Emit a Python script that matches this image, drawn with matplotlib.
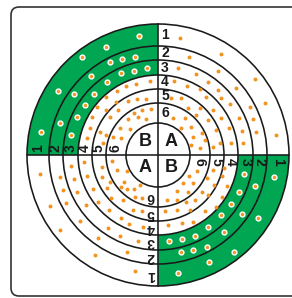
import matplotlib
matplotlib.use("Agg")
import matplotlib.pyplot as plt
from matplotlib.patches import Wedge, Circle, FancyBboxPatch

plt.rcParams['font.family'] = ['Liberation Sans', 'DejaVu Sans']

# ring boundaries (outer -> inner) and ring numbers
ring_radii = [131, 109, 95, 80, 66, 52, 32]
ring_labels = ['1', '2', '3', '4', '5', '6']
label_r = [120, 102, 87.5, 73, 59, 42]

# centre letters
center_letters = ['B', 'A', 'A', 'B']
center_x = [-13, 13, -13, 13]
center_y = [13, 13, -13, -13]

# dots in the green rings (top-left then bottom-right)
green_x = [-19, -52, -76, -100, -117,
           -48, -36, -23, -67, -84, -98,
           -37, -24, -11, -51, -64, -73, -81, -87,
           116, 100, 76, 51, 20,
           97, 84, 66, 49, 35, 23,
           86, 81, 73, 63, 50, 37, 24, 11]
green_y = [119, 108, 98, 64, 23,
           93, 96, 98, 79, 61, 32,
           82, 84, 87, 73, 61, 50, 38, 20,
           -22, -63, -97, -107, -118,
           -31, -59, -77, -92, -95, -97,
           -19, -37, -49, -60, -72, -81, -84, -86]

# dots in the white rings
tr_x = [22, 63, 31, 20, 38, 60, 97, 50, 16, 29, 42, 60, 78, 13, 23, 48, 63,
        92, 107, 72, 30, 42, 55, 15, 27, 38, 50, 63, 81, 98, 118, 23, 33,
        44, 58, 71, 85, 73, 62, 35, 47, 55, 33, 42, 95, 84]
tr_y = [117, 101, 98, 87, 81, 84, 76, 73, 74, 69, 66, 65, 67, 57, 57, 58, 57,
        48, 52, 51, 47, 47, 45, 37, 37, 40, 35, 37, 37, 23, 20, 27, 28,
        22, 25, 27, 12, 12, 12, 18, 15, 8, 10, 7, 36, 24]
tl_x = [-8, -22, -32, -41, -52, -61, -66, -71, -68, -12, -21, -30, -42, -52,
        -58, -48, -40, -7, -16, -24, -30, -20, -12, -38, -28, -45, -55, -52, -37]
tl_y = [74, 71, 69, 64, 58, 48, 38, 17, 27, 56, 56, 54, 53, 45,
        23, 38, 45, 46, 45, 42, 36, 38, 36, 27, 26, 18, 12, 20, 17]
bl_x = [-118, -108, -98, -63, -23,
        -98, -95, -92, -78, -60, -31,
        -87, -84, -81, -72, -50, -38, -20,
        -74, -71, -65, -60, -49, -37, -29, -15,
        -56, -56, -48, -51, -47, -35, -25, -16,
        -46, -41, -31, -34, -37, -31, -24, -18, -23, -16]
bl_y = [-19, -51, -75, -100, -116,
        -22, -35, -48, -66, -83, -97,
        -11, -24, -37, -50, -73, -81, -86,
        -7, -21, -34, -47, -55, -63, -69, -72,
        -12, -22, -27, -33, -43, -45, -55, -56,
        -6, -15, -16, -27, -32, -34, -34, -30, -42, -43]
br_x = [31, 39, 25, 35, 19, 30, 9, 19,
        49, 55, 44, 56, 28, 37, 7, 19, 32, 50,
        64, 66, 64, 69, 47, 58, 24, 35, 10]
br_y = [-21, -16, -28, -28, -36, -37, -45, -45,
        -23, -15, -37, -30, -47, -45, -56, -55, -55, -40,
        -21, -13, -42, -31, -56, -52, -68, -67, -70]

green = '#00A651'
orange = '#F39322'

fig = plt.figure(figsize=(2.92, 2.98), dpi=100)
ax = fig.add_axes([0, 0, 1, 1])
ax.set_xlim(-158, 134)
ax.set_ylim(-143, 155)
ax.set_aspect('equal')
ax.axis('off')

# rounded frame
ax.add_patch(FancyBboxPatch((-147, -141), 300, 289,
                            boxstyle='round,pad=0,rounding_size=8',
                            fc='none', ec='#333333', lw=1.2))

# green sectors (rings 1-3)
w = ring_radii[0] - ring_radii[3]
ax.add_patch(Wedge((0, 0), ring_radii[0], 90, 180, width=w, color=green, lw=0))
ax.add_patch(Wedge((0, 0), ring_radii[0], 270, 360, width=w, color=green, lw=0))

for r in ring_radii:
    ax.add_patch(Circle((0, 0), r, fill=False, ec='#1a1a1a', lw=1.15))
R = ring_radii[0]
ax.plot([-R, R], [0, 0], color='#1a1a1a', lw=1.15)
ax.plot([0, 0], [-R, R], color='#1a1a1a', lw=1.15)

# dots
wx = tr_x + tl_x + bl_x + br_x
wy = tr_y + tl_y + bl_y + br_y
ax.scatter(wx, wy, s=8, color=orange, lw=0, zorder=3)
ax.scatter(green_x, green_y, s=12, color=orange, ec='white', lw=1.0, zorder=3)

# ring numbers in each quadrant
off = 7
for lab, r in zip(ring_labels, label_r):
    kw = dict(fontsize=10, fontweight='bold', color='#1a1a1a',
              ha='center', va='center', rotation_mode='anchor')
    ax.text(off, r, lab, rotation=0, **kw)
    ax.text(-r, off, lab, rotation=90, **kw)
    ax.text(r, -off, lab, rotation=-90, **kw)
    ax.text(-off, -r, lab, rotation=180, **kw)

for t, x, y in zip(center_letters, center_x, center_y):
    ax.text(x, y, t, fontsize=13, fontweight='bold', color='#1a1a1a',
            ha='center', va='center')

fig.savefig('out.png', dpi=100)
